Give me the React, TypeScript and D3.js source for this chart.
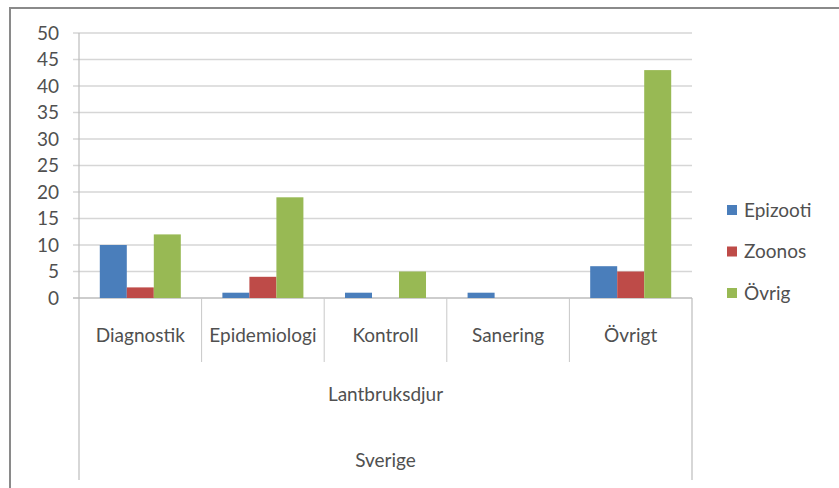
import React from 'react';
import * as d3 from 'd3';

const categories = ['Diagnostik', 'Epidemiologi', 'Kontroll', 'Sanering', 'Övrigt'];
const series = ['Epizooti', 'Zoonos', 'Övrig'];
const epizooti = [10, 1, 1, 1, 6];
const zoonos = [2, 4, 0, 0, 5];
const ovrig = [12, 19, 5, 0, 43];
const yTicks = [0, 5, 10, 15, 20, 25, 30, 35, 40, 45, 50];
const colors = ['#4a7ebb', '#be4b48', '#98b954'];

const W = 839, H = 488;
const left = 79, right = 692, top = 33, bottom = 298;
const font = 'Lato, "Open Sans", sans-serif';
const textColor = '#505050';

export default function App() {
  const values = [epizooti, zoonos, ovrig];
  const x = d3.scaleBand().domain(categories).range([left, right]).paddingInner(0).paddingOuter(0);
  const inner = d3.scaleBand().domain(series).range([0, x.bandwidth()]).paddingInner(0).paddingOuter(0.77);
  const y = d3.scaleLinear().domain([0, 50]).range([bottom, top]);

  return (
    <svg width={W} height={H} style={{ position: 'absolute', left: 0, top: 0, background: '#fff' }}>
      {/* outer frame */}
      <rect x={10} y={8} width={840} height={500} fill="#fff" stroke="#8a8a8a" strokeWidth={2} />

      {/* grid */}
      {yTicks.map(t => (
        <g key={t}>
          <line x1={left - 6} x2={right} y1={y(t)} y2={y(t)} stroke={t === 0 ? '#bdbdbd' : '#d6d6d6'} strokeWidth={1.5} />
          <text x={59} y={y(t)} dy="0.35em" textAnchor="end" fontFamily={font} fontSize={19} fill={textColor}>{t}</text>
        </g>
      ))}
      <line x1={left} x2={left} y1={top} y2={480} stroke="#bdbdbd" strokeWidth={1.2} />
      <line x1={right} x2={right} y1={bottom} y2={480} stroke="#bdbdbd" strokeWidth={1.2} />
      {categories.slice(1).map(c => (
        <line key={c} x1={x(c)!} x2={x(c)!} y1={bottom} y2={362} stroke="#c8c8c8" strokeWidth={1} />
      ))}

      {/* bars */}
      {categories.map((c, i) => (
        <g key={c} transform={`translate(${x(c)},0)`}>
          {series.map((s, j) => (
            <rect key={s} x={inner(s)!} width={inner.bandwidth()} y={y(values[j][i])} height={bottom - y(values[j][i])} fill={colors[j]} />
          ))}
        </g>
      ))}

      {/* category labels */}
      {categories.map(c => (
        <text key={c} x={x(c)! + x.bandwidth() / 2} y={335} dy="0.35em" textAnchor="middle" fontFamily={font} fontSize={19} fill={textColor}>{c}</text>
      ))}
      <text x={(left + right) / 2} y={394} dy="0.35em" textAnchor="middle" fontFamily={font} fontSize={19} fill={textColor}>Lantbruksdjur</text>
      <text x={(left + right) / 2} y={460} dy="0.35em" textAnchor="middle" fontFamily={font} fontSize={19} fill={textColor}>Sverige</text>

      {/* legend */}
      {series.map((s, j) => (
        <g key={s} transform={`translate(727,${210 + j * 41.5})`}>
          <rect x={0} y={-5} width={10} height={10} fill={colors[j]} />
          <text x={17} y={0} dy="0.35em" fontFamily={font} fontSize={19} fill={textColor}>{s}</text>
        </g>
      ))}
    </svg>
  );
}
